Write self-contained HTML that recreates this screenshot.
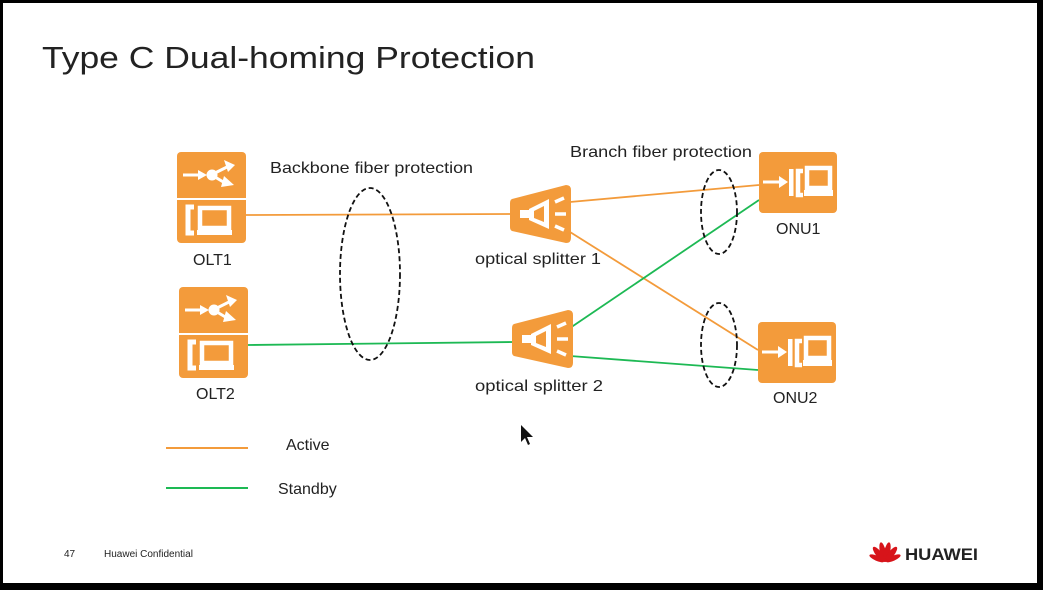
<!DOCTYPE html>
<html><head><meta charset="utf-8"><style>
html,body{margin:0;padding:0;background:#fff}
svg{display:block}
text{font-family:"Liberation Sans",sans-serif;fill:#222}
</style></head><body>
<svg width="1043" height="590" viewBox="0 0 1043 590" xmlns="http://www.w3.org/2000/svg">
<defs>
<g id="olt">
<rect x="0" y="0" width="69" height="91" rx="4" fill="#F39B3B"/>
<line x1="0" y1="47" x2="69" y2="47" stroke="#fff" stroke-width="2"/>
<line x1="6" y1="23" x2="24" y2="23" stroke="#fff" stroke-width="3"/>
<polygon points="21,18 30,23 21,28" fill="#fff"/>
<circle cx="35" cy="23" r="5.5" fill="#fff"/>
<line x1="38" y1="21" x2="52" y2="14" stroke="#fff" stroke-width="3"/>
<polygon points="47,8 58,13 51,20" fill="#fff"/>
<line x1="38" y1="25" x2="48" y2="31" stroke="#fff" stroke-width="3"/>
<polygon points="47,24 57,33 44,35" fill="#fff"/>
<path d="M17 55 h-6 v26 h6" fill="none" stroke="#fff" stroke-width="5"/>
<rect x="23" y="56" width="29" height="20" fill="none" stroke="#fff" stroke-width="4.5"/>
<rect x="20" y="78" width="35" height="5" fill="#fff"/>
</g>
<g id="onu">
<rect x="0" y="0" width="78" height="61" rx="4" fill="#F39B3B"/>
<line x1="4" y1="30" x2="24" y2="30" stroke="#fff" stroke-width="3"/>
<polygon points="20,24 29,30 20,36" fill="#fff"/>
<rect x="30" y="17" width="4.5" height="27" fill="#fff"/>
<path d="M44 19 h-5 v24 h5" fill="none" stroke="#fff" stroke-width="4.5"/>
<rect x="48" y="16" width="23" height="20" fill="none" stroke="#fff" stroke-width="4.5"/>
<rect x="45" y="38" width="29" height="6" fill="#fff"/>
</g>
<g id="spl">
<path d="M2 14 L56 0 Q61 0 61 5 V53 Q61 58 56 58 L2 46 Q0 45 0 42 V18 Q0 15 2 14 Z" fill="#F39B3B"/>
<rect x="10" y="25" width="10" height="8" fill="#fff"/>
<polygon points="19,24 39,14 39,44 19,35" fill="#fff"/>
<polygon points="24,26 34,21 34,37 24,33" fill="#F39B3B"/>
<line x1="45" y1="17" x2="54" y2="13" stroke="#fff" stroke-width="3.5"/>
<line x1="45" y1="29" x2="56" y2="29" stroke="#fff" stroke-width="3.5"/>
<line x1="45" y1="41" x2="54" y2="45" stroke="#fff" stroke-width="3.5"/>
</g>
</defs>
<rect x="0" y="0" width="1043" height="590" fill="#000"/>
<rect x="3" y="3" width="1034" height="580" fill="#fff"/>

<text x="42" y="68" font-size="31" textLength="493" lengthAdjust="spacingAndGlyphs">Type C Dual-homing Protection</text>

<g stroke-width="1.8" fill="none">
<line x1="246" y1="215" x2="512" y2="214" stroke="#F39B3B"/>
<line x1="248" y1="345" x2="514" y2="342" stroke="#1DB954"/>
<line x1="570" y1="202" x2="759" y2="185" stroke="#F39B3B"/>
<line x1="570" y1="232" x2="758" y2="350" stroke="#F39B3B"/>
<line x1="570" y1="328" x2="759" y2="200" stroke="#1DB954"/>
<line x1="570" y1="356" x2="758" y2="370" stroke="#1DB954"/>
</g>

<use href="#olt" x="177" y="152"/>
<use href="#olt" x="179" y="287"/>
<use href="#spl" x="510" y="185"/>
<use href="#spl" x="512" y="310"/>
<use href="#onu" x="759" y="152"/>
<use href="#onu" x="758" y="322"/>

<g fill="none" stroke="#111" stroke-width="1.8" stroke-dasharray="5,3">
<ellipse cx="370" cy="274" rx="30" ry="86"/>
<ellipse cx="719" cy="212" rx="18" ry="42"/>
<ellipse cx="719" cy="345" rx="18" ry="42"/>
</g>

<text x="270" y="173" font-size="16" textLength="203" lengthAdjust="spacingAndGlyphs">Backbone fiber protection</text>
<text x="570" y="157" font-size="16" textLength="182" lengthAdjust="spacingAndGlyphs">Branch fiber protection</text>
<text x="193" y="265" font-size="16">OLT1</text>
<text x="196" y="399" font-size="16">OLT2</text>
<text x="475" y="264" font-size="16" textLength="126" lengthAdjust="spacingAndGlyphs">optical splitter 1</text>
<text x="475" y="391" font-size="16" textLength="128" lengthAdjust="spacingAndGlyphs">optical splitter 2</text>
<text x="776" y="234" font-size="16">ONU1</text>
<text x="773" y="403" font-size="16">ONU2</text>

<line x1="166" y1="448" x2="248" y2="448" stroke="#F39B3B" stroke-width="2"/>
<line x1="166" y1="488" x2="248" y2="488" stroke="#1DB954" stroke-width="2"/>
<text x="286" y="450" font-size="16">Active</text>
<text x="278" y="494" font-size="16">Standby</text>

<path d="M521 425 v17 l4 -4 l3 7 l2 -1 l-3 -7 h6 Z" fill="#111"/>

<text x="64" y="557" font-size="10" fill="#444">47</text>
<text x="104" y="557" font-size="10" fill="#444">Huawei Confidential</text>

<g transform="translate(885,562)" fill="#D7141A">
<ellipse cx="0" cy="-10" rx="3" ry="10" transform="rotate(-12)"/>
<ellipse cx="0" cy="-10" rx="3" ry="10" transform="rotate(12)"/>
<ellipse cx="0" cy="-10" rx="3" ry="9" transform="rotate(-38)"/>
<ellipse cx="0" cy="-10" rx="3" ry="9" transform="rotate(38)"/>
<ellipse cx="0" cy="-9" rx="2.5" ry="8" transform="rotate(-66)"/>
<ellipse cx="0" cy="-9" rx="2.5" ry="8" transform="rotate(66)"/>
</g>
<text x="905" y="560" font-size="17" font-weight="bold" fill="#222" textLength="73" lengthAdjust="spacingAndGlyphs">HUAWEI</text>
</svg>
</body></html>
